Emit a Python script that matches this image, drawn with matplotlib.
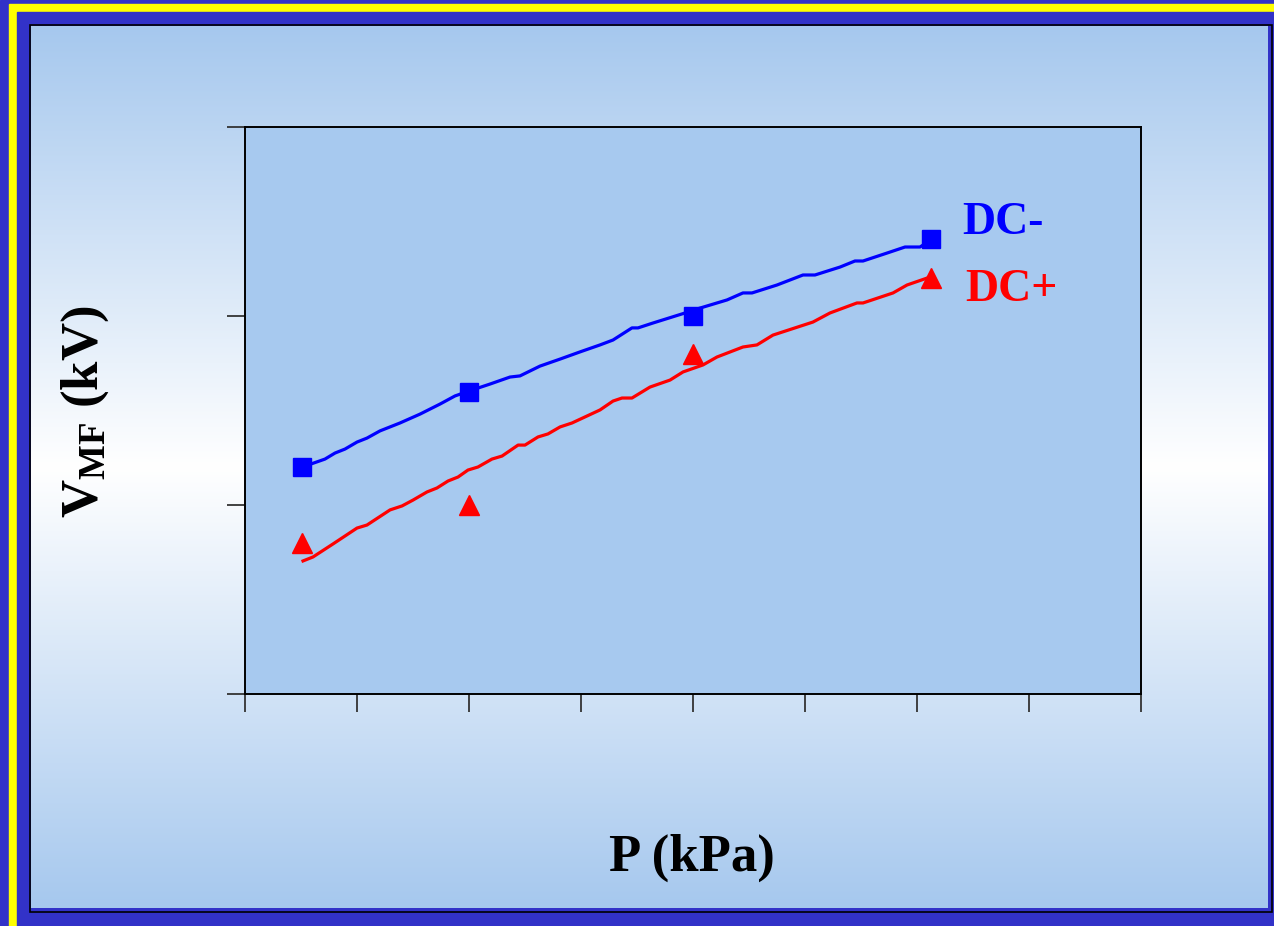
import numpy as np
import matplotlib.pyplot as plt
from matplotlib.patches import Rectangle

# measured points (markers)
p_points = [0.51, 2.0, 4.0, 6.125]
v_dc_minus = [1.20, 1.60, 2.00, 2.41]
v_dc_plus = [0.80, 1.00, 1.80, 2.20]

# fitted curves
p_fit_minus = [0.509, 0.589, 0.714, 0.804, 0.893, 1.0, 1.089, 1.205, 1.384, 1.563,
               1.741, 1.875, 2.0, 2.188, 2.366, 2.455, 2.634, 2.813, 2.991, 3.17,
               3.286, 3.455, 3.509, 3.643, 3.929, 4.063, 4.304, 4.446, 4.527, 4.75,
               4.982, 5.089, 5.313, 5.446, 5.518, 5.732, 5.893, 6.027, 6.134]
v_fit_minus = [1.201, 1.217, 1.243, 1.275, 1.296, 1.333, 1.354, 1.392, 1.434, 1.481,
               1.534, 1.577, 1.603, 1.640, 1.677, 1.683, 1.735, 1.772, 1.810, 1.847,
               1.873, 1.937, 1.937, 1.963, 2.016, 2.042, 2.085, 2.122, 2.122, 2.164,
               2.217, 2.217, 2.259, 2.291, 2.291, 2.333, 2.365, 2.365, 2.407]

p_fit_plus = [0.518, 0.607, 0.786, 1.0, 1.089, 1.295, 1.402, 1.5, 1.625, 1.714,
              1.813, 1.902, 1.991, 2.080, 2.205, 2.295, 2.438, 2.5, 2.616, 2.705,
              2.813, 2.920, 3.170, 3.286, 3.366, 3.455, 3.616, 3.795, 3.911, 4.089,
              4.214, 4.446, 4.571, 4.714, 5.071, 5.223, 5.464, 5.518, 5.786, 5.911, 6.116]
v_fit_plus = [0.704, 0.725, 0.794, 0.878, 0.894, 0.974, 0.995, 1.026, 1.069, 1.090,
              1.127, 1.148, 1.185, 1.201, 1.243, 1.259, 1.317, 1.317, 1.360, 1.376,
              1.413, 1.434, 1.503, 1.550, 1.566, 1.566, 1.624, 1.661, 1.704, 1.741,
              1.783, 1.836, 1.847, 1.899, 1.968, 2.016, 2.069, 2.069, 2.122, 2.164, 2.206]

x_ticks = list(range(0, 9))
y_ticks = [0, 1, 2, 3]

plt.rcParams['mathtext.fontset'] = 'custom'
plt.rcParams['mathtext.rm'] = 'Liberation Serif:bold'
plt.rcParams['mathtext.bf'] = 'Liberation Serif:bold'
plt.rcParams['mathtext.it'] = 'Liberation Serif:bold'

W, H = 1274, 926
fig = plt.figure(figsize=(W / 100, H / 100), dpi=100)

# slide background
bg = fig.add_axes([0, 0, 1, 1])
bg.set_xlim(0, W)
bg.set_ylim(H, 0)
bg.axis('off')
bg.add_patch(Rectangle((0, 0), W, H, color='#3232c8', zorder=0))
bg.add_patch(Rectangle((9, 4), W, H, color='#ffff00', zorder=1))
bg.add_patch(Rectangle((17, 12), W, H, color='#3232c8', zorder=2))
bg.add_patch(Rectangle((30, 25), 1242, 887, fill=False, edgecolor='black', lw=1.2, zorder=3))

edge = np.array([0xa6, 0xc8, 0xee]) / 255
t = np.linspace(0, 1, 400)
w = 1 - np.abs(t - 0.5) * 2
grad = edge[None, :] * (1 - w[:, None]) + w[:, None]
grad = np.repeat(grad[:, None, :], 2, axis=1)
bg.imshow(grad, extent=(31, 1268, 908, 26), aspect='auto', zorder=4)

# plot area
ax = fig.add_axes([245 / W, 1 - 694 / H, 896 / W, 567 / H])
ax.set_facecolor('#a7c9ef')
ax.set_xlim(0, 8)
ax.set_ylim(0, 3)
ax.set_xticks(x_ticks)
ax.set_yticks(y_ticks)
ax.set_xticklabels([])
ax.set_yticklabels([])
ax.tick_params(direction='out', length=13, width=1.3, color='#333333')
for s in ax.spines.values():
    s.set_color('black')
    s.set_linewidth(1.4)

ax.plot(p_fit_minus, v_fit_minus, color='#0000ff', lw=2.3, zorder=2)
ax.plot(p_fit_plus, v_fit_plus, color='#ff0000', lw=2.3, zorder=2)
ax.plot(p_points, v_dc_minus, 's', color='#0000ff', ms=12.5, zorder=3)
ax.plot(p_points, v_dc_plus, '^', color='#ff0000', ms=15, zorder=3)

ax.text(6.4, 2.49, 'DC-', color='#0000ff', fontsize=33, fontweight='bold',
        family='Liberation Serif', ha='left', va='center')
ax.text(6.43, 2.14, 'DC+', color='#ff0000', fontsize=33, fontweight='bold',
        family='Liberation Serif', ha='left', va='center')

fig.text(692 / W, 1 - 858 / H, 'P (kPa)', fontsize=38, fontweight='bold',
         family='Liberation Serif', ha='center', va='center')
fig.text(85 / W, 1 - 412 / H, r'V$_{\mathbf{MF}}$ (kV)', fontsize=38, fontweight='bold',
         family='Liberation Serif', ha='center', va='center', rotation=90)

plt.savefig('out.png', dpi=100)
